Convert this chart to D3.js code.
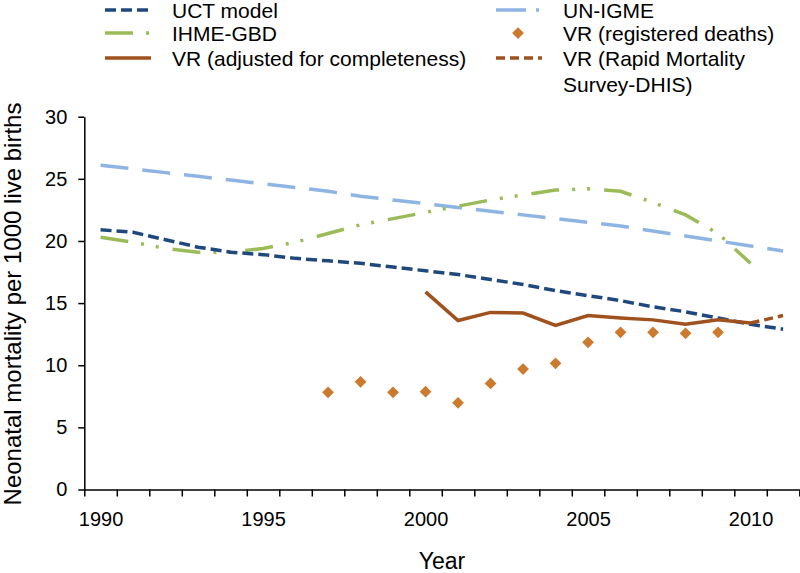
<!DOCTYPE html>
<html lang="en">
<head>
<meta charset="UTF-8" />
<script src="https://d3js.org/d3.v7.min.js"></script>
<title>Neonatal mortality</title>
<style>
  body { margin: 0; background: #fff; }
  text { font-family: "Liberation Sans", Arial, Helvetica, sans-serif; fill: #000; }
</style>
</head>
<body>
<script>

// data
var years = [1990,1991,1992,1993,1994,1995,1996,1997,1998,1999,2000,2001,2002,2003,2004,2005,2006,2007,2008,2009,2010,2011];
var uct = [20.9,20.7,20.1,19.5,19.1,18.9,18.6,18.4,18.2,17.9,17.6,17.3,16.9,16.5,16.0,15.6,15.2,14.7,14.3,13.8,13.3,12.9];
var unigme = [26.1,25.8,25.5,25.2,24.9,24.6,24.3,24.0,23.6,23.3,23.0,22.7,22.4,22.1,21.8,21.5,21.2,20.8,20.4,20.0,19.6,19.2];
var ihmeYears = years.slice(0, 21);
var ihme = [20.3,19.9,19.4,19.1,19.1,19.4,19.9,20.6,21.3,21.8,22.3,22.8,23.3,23.7,24.1,24.2,24.0,23.1,22.1,20.6,18.2];
var vrAdjYears = [2000,2001,2002,2003,2004,2005,2006,2007,2008,2009,2010];
var vrAdj = [15.9,13.6,14.25,14.2,13.2,14.0,13.8,13.65,13.3,13.65,13.4];
var vrRegYears = [1997,1998,1999,2000,2001,2002,2003,2004,2005,2006,2007,2008,2009];
var vrReg = [7.82,8.67,7.82,7.87,6.98,8.54,9.69,10.15,11.84,12.65,12.65,12.57,12.65];
var rmsYears = [2010,2011];
var rms = [13.4,14.0];
var yTicks = [0,5,10,15,20,25,30];
var xLabels = [1990,1995,2000,2005,2010];

var width = 800, height = 573;
var svg = d3.select("body").append("svg").attr("width", width).attr("height", height);

var x = d3.scaleLinear().domain([1989.5, 2011.5]).range([84.3, 799.3]);
var y = d3.scaleLinear().domain([0, 30]).range([489.5, 116.7]);

// axes
var xb = [];
for (var i = 0; i <= years.length; i++) xb.push(1989.5 + i);

var gx = svg.append("g").attr("transform", "translate(0," + y(0) + ")")
  .call(d3.axisBottom(x).tickValues(xb).tickFormat("").tickSize(7).tickSizeOuter(0));
gx.selectAll("path, line").attr("stroke", "#000").attr("stroke-width", 1.5);

var gxl = svg.append("g").attr("transform", "translate(0," + y(0) + ")")
  .call(d3.axisBottom(x).tickValues(xLabels).tickFormat(d3.format("d")).tickSize(0).tickPadding(22));
gxl.select(".domain").remove();
gxl.selectAll("text").style("font-size", "20px");

var gy = svg.append("g").attr("transform", "translate(" + x(1989.5) + ",0)")
  .call(d3.axisLeft(y).tickValues(yTicks).tickSize(6).tickPadding(11).tickSizeOuter(0));
gy.selectAll("path, line").attr("stroke", "#000").attr("stroke-width", 1.5);
gy.selectAll("text").style("font-size", "20px");

svg.append("text").attr("x", 442).attr("y", 569).attr("text-anchor", "middle")
  .style("font-size", "23px").text("Year");
svg.append("text").attr("transform", "translate(21,304) rotate(-90)").attr("text-anchor", "middle")
  .style("font-size", "24px").text("Neonatal mortality per 1000 live births");

// series
var line = d3.line().x(function(d){ return x(d[0]); }).y(function(d){ return y(d[1]); });
function pairs(xs, ys){ return xs.map(function(v, i){ return [v, ys[i]]; }); }

var series = [
  {xs: years, ys: unigme, color: "#8EB4E3", dash: "28,14"},
  {xs: ihmeYears, ys: ihme, color: "#9BBB59", dash: "28,13,3,12,3,14"},
  {xs: years, ys: uct, color: "#1F497D", dash: "11,5"},
  {xs: vrAdjYears, ys: vrAdj, color: "#A0521E", dash: null},
  {xs: rmsYears, ys: rms, color: "#A0521E", dash: "9,5"}
];

series.forEach(function(s){
  svg.append("path").datum(pairs(s.xs, s.ys))
    .attr("d", line).attr("fill", "none")
    .attr("stroke", s.color).attr("stroke-width", 3.5)
    .attr("stroke-dasharray", s.dash);
});

var diamond = d3.symbol().type(d3.symbolDiamond2).size(88);
svg.append("g").selectAll("path").data(pairs(vrRegYears, vrReg)).enter().append("path")
  .attr("d", diamond)
  .attr("transform", function(d){ return "translate(" + x(d[0]) + "," + y(d[1]) + ")"; })
  .attr("fill", "#CC7A2E");

// legend
var legend = [
  {label: "UCT model", col: 0, row: 0, color: "#1F497D", dash: "11,5"},
  {label: "IHME-GBD", col: 0, row: 1, color: "#9BBB59", dash: "28,13,3,12"},
  {label: "VR (adjusted for completeness)", col: 0, row: 2, color: "#A0521E", dash: null},
  {label: "UN-IGME", col: 1, row: 0, color: "#8EB4E3", dash: "30,10,3,10"},
  {label: "VR (registered deaths)", col: 1, row: 1, color: "#CC7A2E", marker: true},
  {label: "VR (Rapid Mortality", col: 1, row: 2, color: "#A0521E", dash: "9,5"}
];
var colX = [105, 496], rowY = [10, 33, 58, 84];
legend.forEach(function(l){
  var lx = colX[l.col], ly = rowY[l.row];
  if (l.marker) {
    svg.append("path").attr("d", diamond).attr("transform", "translate(" + (lx + 22) + "," + ly + ")").attr("fill", l.color);
  } else {
    svg.append("line").attr("x1", lx).attr("x2", lx + 46).attr("y1", ly).attr("y2", ly)
      .attr("stroke", l.color).attr("stroke-width", 3.5).attr("stroke-dasharray", l.dash);
  }
  svg.append("text").attr("x", lx + 67).attr("y", ly + 7.5).style("font-size", "21px").text(l.label);
});
svg.append("text").attr("x", colX[1] + 67).attr("y", rowY[3] + 7.5).style("font-size", "21px").text("Survey-DHIS)");

</script>
</body>
</html>
